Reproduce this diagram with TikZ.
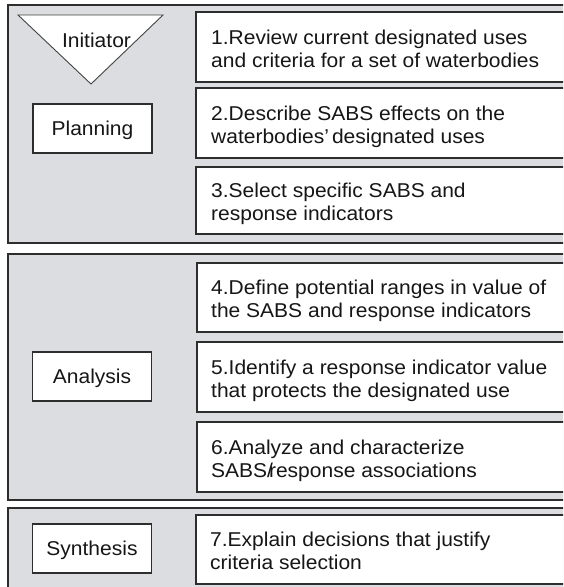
\documentclass[tikz,border=0pt]{standalone}
\usepackage{fontspec}
\setmainfont{Liberation Sans}[FakeStretch=1.05]
\usetikzlibrary{calc}
\definecolor{panelfill}{RGB}{220,221,224}
\definecolor{edge}{RGB}{45,45,45}
\definecolor{ink}{RGB}{22,22,22}
\newcommand\lnstrut{\rule[-4pt]{0pt}{18pt}}
\begin{document}
\begin{tikzpicture}[x=1pt,y=-1pt,
  panel/.style={draw=edge, line width=1.5pt, fill=panelfill, anchor=north west, inner sep=0pt, outer sep=0pt},
  wbox/.style={draw=edge, line width=1.4pt, fill=white, anchor=north west, inner sep=0pt, outer sep=0pt},
  lbox/.style={draw=edge, line width=1.4pt, fill=white, inner sep=0pt, minimum width=119pt, minimum height=49pt,
     font=\fontsize{20}{23}\selectfont, text=ink, text height=14.3pt, text depth=0pt},
  txt/.style={font=\fontsize{20}{23}\selectfont, inner sep=0pt, text=ink, align=left, anchor=west},
  tri/.style={draw=edge!90, line width=0.9pt, fill=white, line join=miter},
]
\useasboundingbox (0,0) rectangle (563,587);
\clip (0,0) rectangle (563,587);
\fill[white] (0,0) rectangle (563,587);

% panels
\node[panel, minimum width=620pt, minimum height=238pt] (planpanel) at (8,5) {};
\node[panel, minimum width=620pt, minimum height=246pt] (anpanel) at (8,254) {};
\node[panel, minimum width=620pt, minimum height=120pt] (synpanel) at (8,508) {};

% initiator triangle
\coordinate (ta) at (18,15);
\coordinate (tb) at (163,15);
\coordinate (tc) at (91,84);
\draw[tri] (ta) -- (tb) -- (tc) -- cycle;
\node[font=\fontsize{20}{23}\selectfont, text=ink, inner sep=0pt, text height=14.3pt, text depth=0pt] (init) at (96.5,40) {Initiator};

% phase labels
\node[lbox] (plan) at (92.5,128.5) {Planning};
\node[lbox] (anal) at (92,376.5) {Analysis};
\node[lbox] (synth) at (92,548.5) {Synthesis};

% step boxes
\node[wbox, minimum width=420pt, minimum height=70pt] (s1) at (196,12) {};
\node[wbox, minimum width=420pt, minimum height=70pt] (s2) at (196,88) {};
\node[wbox, minimum width=420pt, minimum height=67pt] (s3) at (196,167) {};
\node[wbox, minimum width=420pt, minimum height=69pt] (s4) at (197,263) {};
\node[wbox, minimum width=420pt, minimum height=70pt] (s5) at (197,342) {};
\node[wbox, minimum width=420pt, minimum height=70pt] (s6) at (197,422) {};
\node[wbox, minimum width=420pt, minimum height=69pt] (s7) at (196,515) {};

% step texts
\node[txt] (t1) at ($(s1.west)+(15,3.5)$) {\lnstrut 1.Review current designated uses\\\lnstrut and criteria for a set of waterbodies};
\node[txt] (t2) at ($(s2.west)+(15,3.5)$) {\lnstrut 2.Describe SABS effects on the\\\lnstrut waterbodies’\kern3pt designated uses};
\node[txt] (t3) at ($(s3.west)+(15,3.5)$) {\lnstrut 3.Select specific SABS and\\\lnstrut response indicators};
\node[txt] (t4) at ($(s4.west)+(14,3.5)$) {\lnstrut 4.Define potential ranges in value of\\\lnstrut the SABS and response indicators};
\node[txt] (t5) at ($(s5.west)+(14,3.5)$) {\lnstrut 5.Identify a response indicator value\\\lnstrut that protects the designated use};
\node[txt] (t6) at ($(s6.west)+(14,3.5)$) {\lnstrut 6.Analyze and characterize\\\lnstrut SABS/\kern-4pt response associations};
\node[txt] (t7) at ($(s7.west)+(14,3.5)$) {\lnstrut 7.Explain decisions that justify\\\lnstrut criteria selection};
\end{tikzpicture}
\end{document}
